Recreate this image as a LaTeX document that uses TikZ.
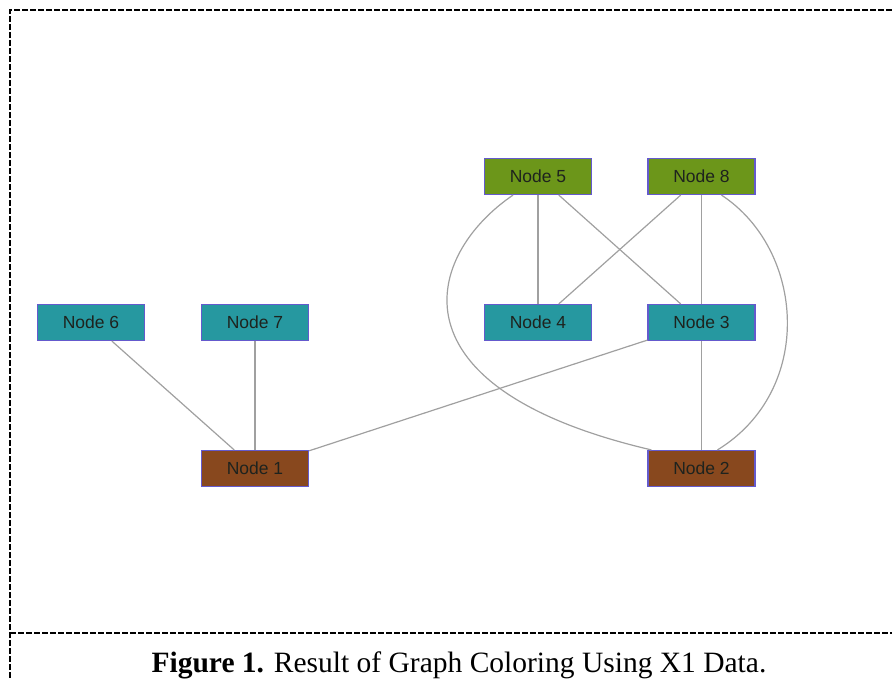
\documentclass[tikz,border=0pt]{standalone}
\usepackage{fontspec}
\setmainfont{Liberation Serif}
\newfontfamily\nodefont{Liberation Sans}
\definecolor{ngreen}{RGB}{108,150,26}
\definecolor{nteal}{RGB}{38,152,160}
\definecolor{nbrown}{RGB}{136,72,30}
\definecolor{nborder}{RGB}{100,90,205}
\definecolor{edgegray}{RGB}{160,160,160}
\definecolor{ntext}{RGB}{30,35,30}
\tikzset{
  gnode/.style={draw=nborder, line width=1.2pt, minimum width=107pt, minimum height=36pt,
    inner sep=0pt, font=\nodefont\fontsize{17.5}{20}\selectfont, text=ntext},
  greennode/.style={gnode, fill=ngreen},
  tealnode/.style={gnode, fill=nteal},
  brownnode/.style={gnode, fill=nbrown},
  edge/.style={draw=edgegray, line width=1.2pt},
  frame/.style={draw=black, line width=1.3pt, dash pattern=on 6pt off 2pt}
}
\begin{document}
\begin{tikzpicture}[x=1pt, y=-1pt]
\useasboundingbox (0,0) rectangle (892,680);
% frame
\coordinate (tl) at (10,10);
\coordinate (tr) at (892,10);
\coordinate (bl) at (10,680);
\coordinate (ml) at (10,633);
\coordinate (mr) at (892,633);
\draw[frame] (tr) -- (tl) -- (bl);
\draw[frame] (ml) -- (mr);
% nodes
\node[greennode] (n5) at (538,176.5) {Node 5};
\node[greennode] (n8) at (701.5,176.5) {Node 8};
\node[tealnode] (n6) at (91,322.5) {Node 6};
\node[tealnode] (n7) at (255,322.5) {Node 7};
\node[tealnode] (n4) at (538,322.5) {Node 4};
\node[tealnode] (n3) at (701.5,322.5) {Node 3};
\node[brownnode] (n1) at (255,468.5) {Node 1};
\node[brownnode] (n2) at (701.5,468.5) {Node 2};
% edges
\draw[edge] (n6) -- (n1);
\draw[edge] (n7) -- (n1);
\draw[edge] (n1) -- (n3);
\draw[edge] (n5) -- (n4);
\draw[edge] (n5) -- (n3);
\draw[edge] (n8) -- (n4);
\draw[edge] (n8) -- (n3);
\draw[edge] (n3) -- (n2);
\draw[edge] ([xshift=-25pt]n5.south) .. controls (425,255) and (386,388) .. ([xshift=4pt]n2.north west);
\draw[edge] ([xshift=20pt]n8.south) .. controls (805,250) and (815,390) .. ([xshift=16pt]n2.north);
% caption
\node[font=\fontsize{29.5}{32}\selectfont, anchor=base, inner sep=0pt] (cap) at (459,672) {\textbf{Figure 1.} Result of Graph Coloring Using X1 Data.};
\end{tikzpicture}
\end{document}
